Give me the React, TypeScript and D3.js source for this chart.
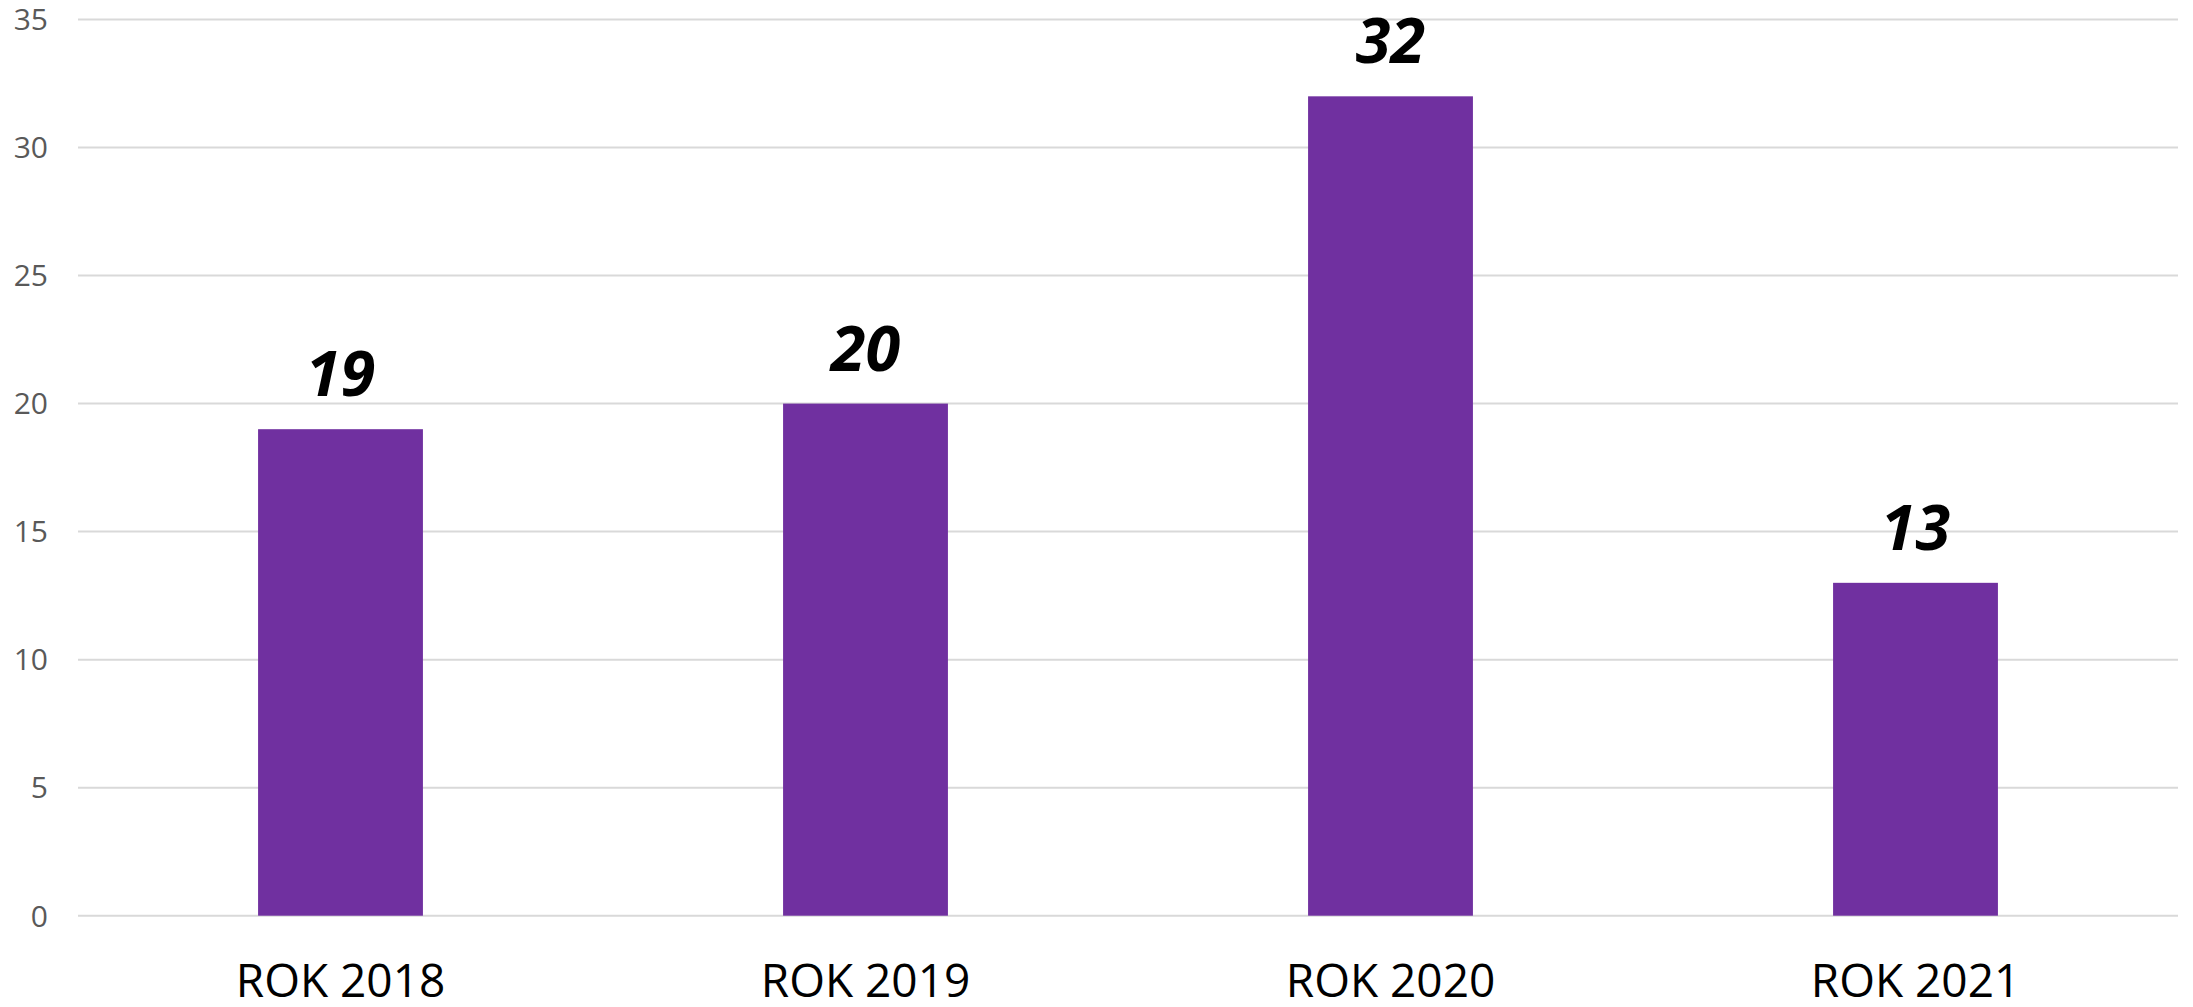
import React from 'react';
import * as d3 from 'd3';

const categories = ['ROK 2018', 'ROK 2019', 'ROK 2020', 'ROK 2021'];
const values = [19, 20, 32, 13];
const yTicks = [0, 5, 10, 15, 20, 25, 30, 35];

const W = 2193;
const H = 1007;
const left = 78;
const right = 2178;
const top = 19.5;
const bottom = 915.7;

export default function App() {
  const x = d3.scaleBand<string>()
    .domain(categories)
    .range([left, right])
    .paddingInner(0.686)
    .paddingOuter(0.343);

  const y = d3.scaleLinear().domain([0, 35]).range([bottom, top]);

  return (
    <svg
      width={W}
      height={H}
      style={{ position: 'absolute', left: 0, top: 0, background: '#fff' }}
    >
      {/* grid + y ticks */}
      {yTicks.map((t) => (
        <g key={t}>
          <line
            x1={left}
            x2={right}
            y1={y(t)}
            y2={y(t)}
            stroke="#d9d9d9"
            strokeWidth={2}
          />
          <text
            x={48}
            y={y(t)}
            dy="0.36em"
            textAnchor="end"
            fontFamily="'Open Sans', sans-serif"
            fontSize={30}
            fill="#595959"
          >
            {t}
          </text>
        </g>
      ))}

      {/* bars */}
      {values.map((v, i) => (
        <rect
          key={categories[i]}
          x={x(categories[i])}
          y={y(v)}
          width={x.bandwidth()}
          height={y(0) - y(v)}
          fill="#7030A0"
        />
      ))}

      {/* value labels */}
      {values.map((v, i) => (
        <text
          key={'l' + i}
          x={(x(categories[i]) || 0) + x.bandwidth() / 2}
          y={y(v) - 33}
          textAnchor="middle"
          fontFamily="'Open Sans', sans-serif"
          fontWeight="bold"
          fontStyle="italic"
          fontSize={63}
          fill="#000"
        >
          {v}
        </text>
      ))}

      {/* category labels */}
      {categories.map((c) => (
        <text
          key={c}
          x={(x(c) || 0) + x.bandwidth() / 2}
          y={997}
          textAnchor="middle"
          fontFamily="'Open Sans', sans-serif"
          fontSize={46}
          fill="#000"
        >
          {c}
        </text>
      ))}
    </svg>
  );
}
